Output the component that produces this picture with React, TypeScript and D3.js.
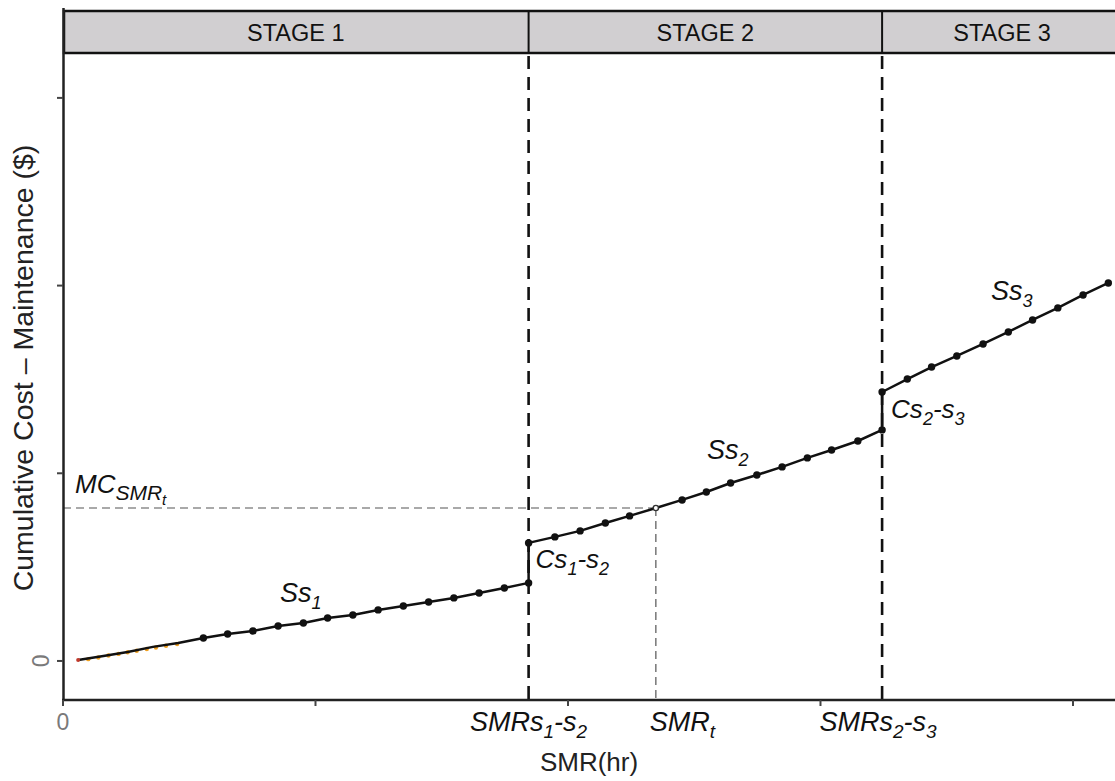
import React from "react";
import * as d3 from "d3";

// Operating hours (SMR) and cumulative maintenance cost ($) per stage
const stage1Hours = [150, 400, 640, 890, 1140, 1390, 1630, 1880, 2130, 2380, 2620, 2870, 3120, 3370, 3620, 3870, 4120, 4370, 4610];
const stage1Cost = [50, 270, 480, 750, 960, 1220, 1440, 1600, 1860, 2020, 2290, 2450, 2720, 2930, 3140, 3360, 3620, 3890, 4160];

const stage2Hours = [4610, 4870, 5120, 5370, 5610, 5870, 6130, 6370, 6610, 6870, 7120, 7370, 7610, 7870, 8110];
const stage2Cost = [6290, 6610, 6930, 7350, 7730, 8150, 8580, 9000, 9480, 9910, 10340, 10820, 11240, 11720, 12310];

const stage3Hours = [8110, 8360, 8600, 8850, 9110, 9360, 9600, 9850, 10100, 10350];
const stage3Cost = [14330, 15020, 15660, 16250, 16890, 17530, 18170, 18810, 19500, 20140];

// Early observed records underneath the fitted stage 1 curve
const observedHours = [250, 350, 450, 550, 640, 730, 830, 920, 1020, 1130];
const observedCost = [140, 230, 330, 420, 510, 590, 680, 760, 850, 950];

const stageNames = ["STAGE 1", "STAGE 2", "STAGE 3"];
const xTicks = [0, 2500, 5000, 7500, 10000];
const yTicks = [0, 10000, 20000, 30000];

const smrS1S2 = 4610;
const smrS2S3 = 8110;
const smrT = 5870;
const mcSmrT = 8150;

const W = 1115;
const H = 781;
const FONT = "'Liberation Sans', Arial, Helvetica, sans-serif";

type Part = { t: string; lvl?: number; size: number };

function Rich({ x, y, parts, anchor = "start" }: { x: number; y: number; parts: Part[]; anchor?: string }) {
  let cur = 0;
  return (
    <text x={x} y={y} textAnchor={anchor as any} fontFamily={FONT} fontStyle="italic" fill="#111">
      {parts.map((p, i) => {
        const target = p.lvl || 0;
        const dy = target - cur;
        cur = target;
        return (
          <tspan key={i} dy={dy} fontSize={p.size}>
            {p.t}
          </tspan>
        );
      })}
    </text>
  );
}

export default function App() {
  const x = d3.scaleLinear().domain([0, 10416]).range([63, 1115]);
  const y = d3.scaleLinear().domain([-2080, 34790]).range([700, 8]);

  const pts1 = stage1Hours.map((h, i) => ({ h, c: stage1Cost[i] }));
  const pts2 = stage2Hours.map((h, i) => ({ h, c: stage2Cost[i] }));
  const pts3 = stage3Hours.map((h, i) => ({ h, c: stage3Cost[i] }));
  const all = [...pts1, ...pts2, ...pts3];

  const line = d3
    .line<{ h: number; c: number }>()
    .x((d) => x(d.h))
    .y((d) => y(d.c));

  const markers = [
    ...pts1.filter((_, i) => i >= 5),
    ...pts2.filter((d) => d.h !== smrT),
    ...pts3,
  ];

  const bounds = [0, smrS1S2, smrS2S3, 10480];
  const headerTop = 11;
  const headerBottom = 53;
  const axisY = 700;

  return (
    <svg width={W} height={H} style={{ position: "absolute", left: 0, top: 0, background: "#fff" }}>
      {/* stage header band */}
      <rect x={x(0) + 1} y={headerTop} width={1122 - x(0)} height={headerBottom - headerTop} fill="#d1cfd1" stroke="#111" strokeWidth={2.5} />
      {[smrS1S2, smrS2S3].map((b) => (
        <line key={b} x1={x(b)} x2={x(b)} y1={headerTop} y2={headerBottom} stroke="#111" strokeWidth={2} />
      ))}
      {stageNames.map((s, i) => {
        const left = x(bounds[i]);
        const right = i === 2 ? 1122 : x(bounds[i + 1]);
        return (
          <text key={s} x={(left + right) / 2} y={40.5} textAnchor="middle" fontFamily={FONT} fontSize={23.5} fill="#111">
            {s}
          </text>
        );
      })}

      {/* stage boundaries */}
      {[smrS1S2, smrS2S3].map((b) => (
        <line key={"d" + b} x1={x(b)} x2={x(b)} y1={headerBottom + 3} y2={axisY} stroke="#111" strokeWidth={2.6} strokeDasharray="13,8" />
      ))}

      {/* reference lines for SMR_t */}
      <line x1={x(0)} x2={x(smrT)} y1={y(mcSmrT)} y2={y(mcSmrT)} stroke="#555" strokeWidth={1.2} strokeDasharray="8,5" />
      <line x1={x(smrT)} x2={x(smrT)} y1={y(mcSmrT)} y2={axisY} stroke="#555" strokeWidth={1.2} strokeDasharray="8,5" />

      {/* observed records */}
      {observedHours.map((h, i) => (
        <circle key={"o" + i} cx={x(h)} cy={y(observedCost[i]) + 0.8} r={2.2} fill="#f0a020" />
      ))}

      {/* cumulative cost curve */}
      <path d={line(all) || ""} fill="none" stroke="#111" strokeWidth={2.5} strokeLinejoin="round" />
      <circle cx={x(stage1Hours[0])} cy={y(stage1Cost[0])} r={2} fill="#c0392b" />
      {markers.map((d, i) => (
        <circle key={"m" + i} cx={x(d.h)} cy={y(d.c)} r={3.7} fill="#111" />
      ))}
      <circle cx={x(smrT)} cy={y(mcSmrT)} r={2.6} fill="#fff" stroke="#333" strokeWidth={1.4} />

      {/* axes */}
      <line x1={63.5} x2={63.5} y1={8} y2={axisY + 1} stroke="#222" strokeWidth={2.5} />
      <line x1={62} x2={W} y1={axisY} y2={axisY} stroke="#222" strokeWidth={2.5} />
      {xTicks.map((t) => (
        <line key={"xt" + t} x1={x(t)} x2={x(t)} y1={axisY} y2={axisY + 6} stroke="#444" strokeWidth={2} />
      ))}
      {yTicks.map((t) => (
        <line key={"yt" + t} x1={57} x2={63} y1={y(t)} y2={y(t)} stroke="#444" strokeWidth={2} />
      ))}
      <text x={x(0)} y={730} textAnchor="middle" fontFamily={FONT} fontSize={23} fill="#7a7a7a">
        0
      </text>
      <text transform={`translate(49,${y(0)}) rotate(-90)`} textAnchor="middle" fontFamily={FONT} fontSize={23} fill="#7a7a7a">
        0
      </text>

      {/* axis titles */}
      <text x={(63 + 1115) / 2} y={771} textAnchor="middle" fontFamily={FONT} fontSize={26} fill="#222">
        SMR(hr)
      </text>
      <text transform="translate(33,368) rotate(-90)" textAnchor="middle" fontFamily={FONT} fontSize={28.5} fill="#222">
        Cumulative Cost – Maintenance ($)
      </text>

      {/* x-axis annotations */}
      <Rich
        x={x(smrS1S2)}
        y={731}
        anchor="middle"
        parts={[
          { t: "SMRs", size: 27 },
          { t: "1", lvl: 7, size: 19 },
          { t: "-s", lvl: 0, size: 27 },
          { t: "2", lvl: 7, size: 19 },
        ]}
      />
      <Rich
        x={x(smrT) - 6}
        y={731}
        parts={[
          { t: "SMR", size: 27 },
          { t: "t", lvl: 7, size: 19 },
        ]}
      />
      <Rich
        x={x(smrS2S3) - 4}
        y={731}
        anchor="middle"
        parts={[
          { t: "SMRs", size: 27 },
          { t: "2", lvl: 7, size: 19 },
          { t: "-s", lvl: 0, size: 27 },
          { t: "3", lvl: 7, size: 19 },
        ]}
      />

      {/* curve annotations */}
      <Rich
        x={75}
        y={y(mcSmrT) - 15}
        parts={[
          { t: "MC", size: 26 },
          { t: "SMR", lvl: 7, size: 21 },
          { t: "t", lvl: 12, size: 15 },
        ]}
      />
      <Rich x={280} y={602} parts={[{ t: "Ss", size: 27 }, { t: "1", lvl: 7, size: 18 }]} />
      <Rich x={707} y={459} parts={[{ t: "Ss", size: 27 }, { t: "2", lvl: 7, size: 18 }]} />
      <Rich x={991} y={300} parts={[{ t: "Ss", size: 27 }, { t: "3", lvl: 7, size: 18 }]} />
      <Rich
        x={x(smrS1S2) + 7}
        y={568}
        parts={[
          { t: "Cs", size: 26 },
          { t: "1", lvl: 7, size: 18 },
          { t: "-s", lvl: 0, size: 26 },
          { t: "2", lvl: 7, size: 18 },
        ]}
      />
      <Rich
        x={x(smrS2S3) + 9}
        y={418}
        parts={[
          { t: "Cs", size: 26 },
          { t: "2", lvl: 7, size: 18 },
          { t: "-s", lvl: 0, size: 26 },
          { t: "3", lvl: 7, size: 18 },
        ]}
      />
    </svg>
  );
}
